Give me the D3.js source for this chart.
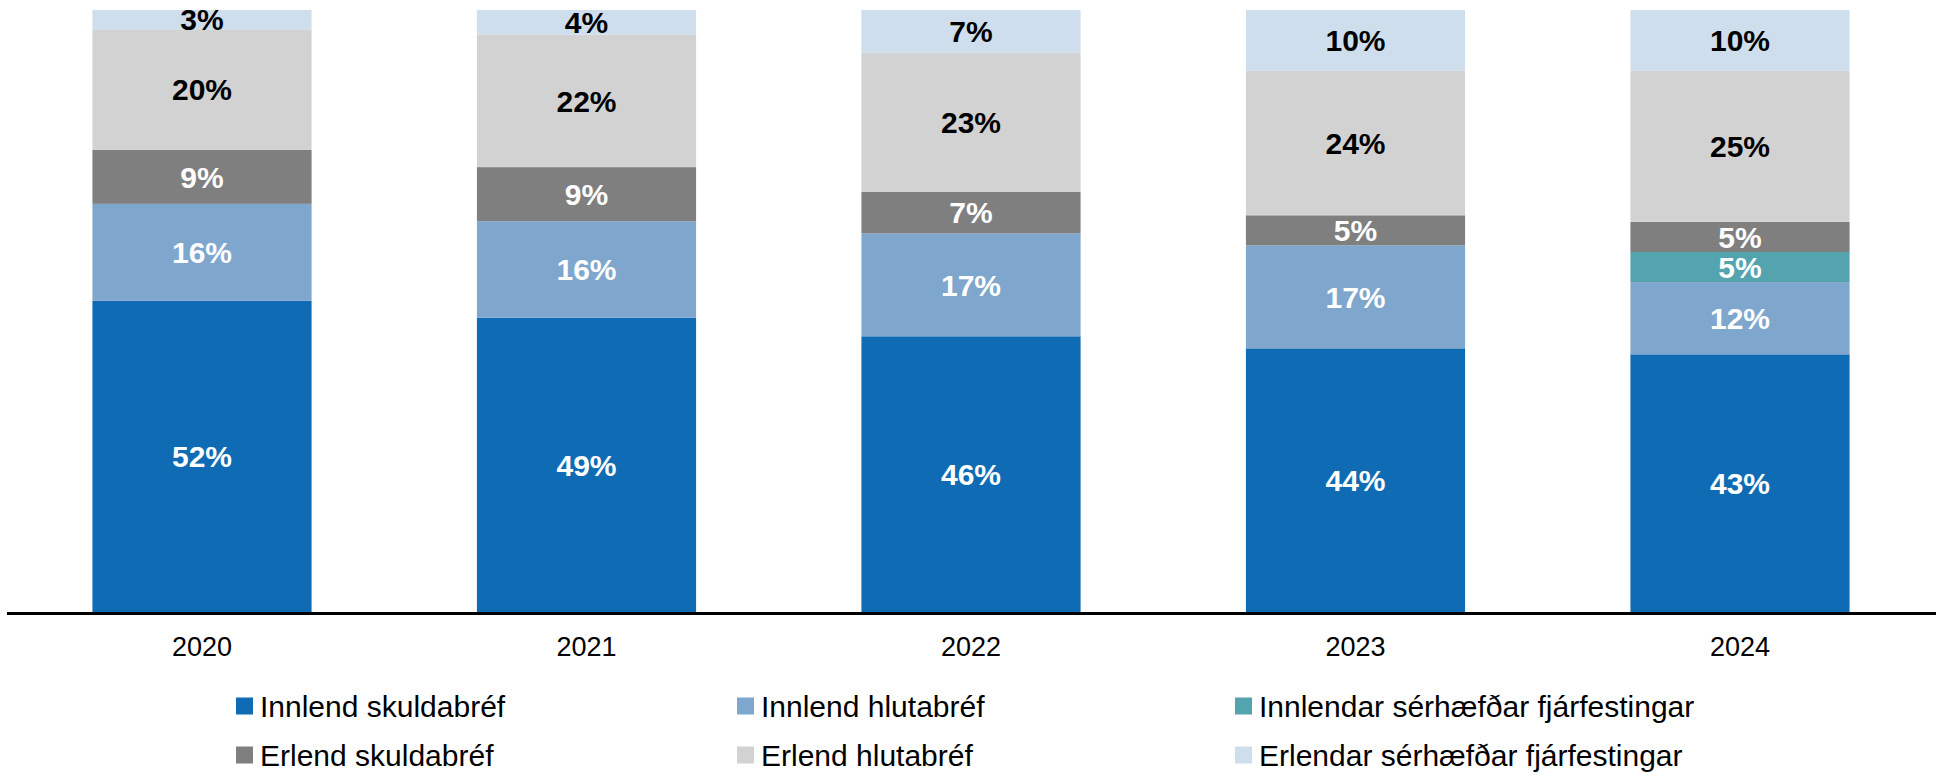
<!DOCTYPE html>
<html>
<head>
<meta charset="utf-8">
<script src="https://cdn.jsdelivr.net/npm/d3@7"></script>
<style>
    body { margin: 0; background: #fff; }
    svg { display: block; font-family: "Liberation Sans", Arial, sans-serif; }
</style>
</head>
<body>
<div id="chart"></div>
<script>
// data (percent of total)
const years = ["2020", "2021", "2022", "2023", "2024"];
const seriesNames = [
    "Innlend skuldabréf",
    "Innlend hlutabréf",
    "Innlendar sérhæfðar fjárfestingar",
    "Erlend skuldabréf",
    "Erlend hlutabréf",
    "Erlendar sérhæfðar fjárfestingar"
];
const innlendSkuldabref = [51.7, 48.9, 45.8, 43.8, 42.8];
const innlendHlutabref = [16.1, 16.0, 17.1, 17.1, 12.0];
const innlendSerhaefdar = [0, 0, 0, 0, 5.0];
const erlendSkuldabref = [9.0, 9.0, 6.9, 5.0, 5.0];
const erlendHlutabref = [20.0, 22.0, 23.1, 24.0, 25.1];
const erlendSerhaefdar = [3.2, 4.1, 7.1, 10.1, 10.1];
const labels = [
    ["52%", "49%", "46%", "44%", "43%"],
    ["16%", "16%", "17%", "17%", "12%"],
    ["", "", "", "", "5%"],
    ["9%", "9%", "7%", "5%", "5%"],
    ["20%", "22%", "23%", "24%", "25%"],
    ["3%", "4%", "7%", "10%", "10%"]
];

const colors = ["#0e6bb4", "#7fa6cd", "#54a4b0", "#7f7f7f", "#d2d2d2", "#cfdeed"];
const labelColors = ["#fff", "#fff", "#fff", "#fff", "#000", "#000"];

const width = 1936, height = 776;
const allSeries = [innlendSkuldabref, innlendHlutabref, innlendSerhaefdar,
    erlendSkuldabref, erlendHlutabref, erlendSerhaefdar];

const table = years.map((y, i) => {
    let row = {year: y};
    seriesNames.forEach((s, j) => row[s] = allSeries[j][i]);
    return row;
});

const stack = d3.stack().keys(seriesNames);
const stacked = stack(table);

const svg = d3.select("#chart").append("svg")
    .attr("width", width)
    .attr("height", height);

const x = d3.scaleBand()
    .domain(years)
    .range([9.75, 1932.25])
    .paddingInner(0.43)
    .paddingOuter(0.215);

const y = d3.scaleLinear()
    .domain([0, 100])
    .range([612, 10]);

// bars
const layers = svg.append("g").selectAll("g")
    .data(stacked)
    .join("g")
    .attr("fill", (d, i) => colors[i]);

layers.selectAll("rect")
    .data(d => d)
    .join("rect")
    .attr("x", d => x(d.data.year))
    .attr("y", d => y(d[1]))
    .attr("width", x.bandwidth())
    .attr("height", d => y(d[0]) - y(d[1]));

// value labels
stacked.forEach((layer, i) => {
    svg.append("g").selectAll("text")
        .data(layer)
        .join("text")
        .attr("x", d => x(d.data.year) + x.bandwidth() / 2)
        .attr("y", d => (y(d[0]) + y(d[1])) / 2)
        .attr("dy", "0.36em")
        .attr("text-anchor", "middle")
        .attr("font-size", 30)
        .attr("font-weight", "bold")
        .attr("fill", labelColors[i])
        .text((d, j) => labels[i][j]);
});

// x axis
const xAxis = svg.append("g")
    .attr("transform", "translate(0,613.5)")
    .call(d3.axisBottom(x).tickSize(0).tickPadding(0));
xAxis.select(".domain").remove();
xAxis.append("line")
    .attr("x1", 7).attr("x2", width)
    .attr("stroke", "#000")
    .attr("stroke-width", 3);
xAxis.selectAll(".tick text")
    .attr("y", 42.5)
    .attr("dy", 0)
    .attr("font-size", 27)
    .attr("font-family", "Liberation Sans, Arial, sans-serif")
    .attr("fill", "#000");

// legend, 3 columns x 2 rows
const legendCols = [236, 737, 1235];
const legendRows = [706, 755];
const legend = svg.append("g").selectAll("g")
    .data(seriesNames)
    .join("g")
    .attr("transform", (d, i) => `translate(${legendCols[i % 3]},${legendRows[Math.floor(i / 3)]})`);

legend.append("rect")
    .attr("x", 0).attr("y", -8.5)
    .attr("width", 17).attr("height", 17)
    .attr("fill", (d, i) => colors[i]);

legend.append("text")
    .attr("x", 24)
    .attr("y", 0)
    .attr("dy", "0.35em")
    .attr("font-size", 30)
    .attr("fill", "#000")
    .text(d => d);
</script>
</body>
</html>
